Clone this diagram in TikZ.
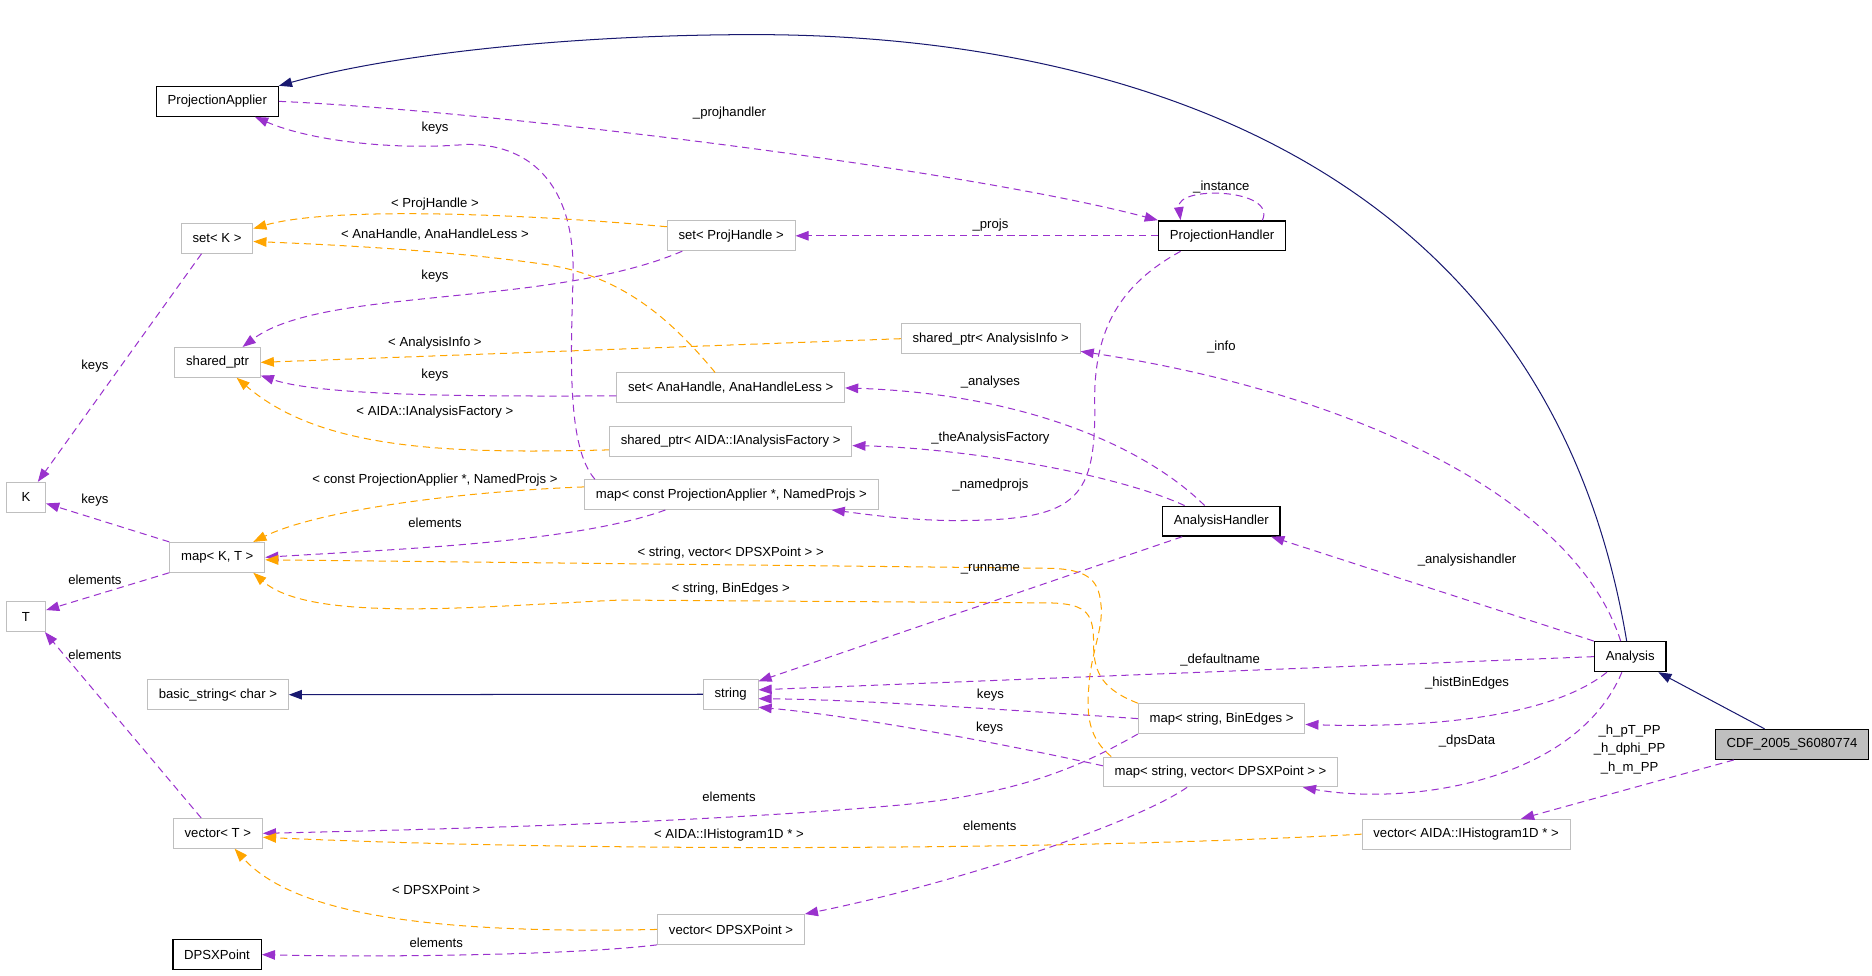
\documentclass[tikz,border=0pt]{standalone}
\usepackage{fontspec}
\setmainfont{Liberation Sans}
\usetikzlibrary{arrows.meta}
\definecolor{orchid}{HTML}{9A32CD}
\definecolor{gvorange}{HTML}{FFA500}
\definecolor{inhblue}{HTML}{191970}
\definecolor{boxgray}{HTML}{BFBFBF}
\begin{document}
\begin{tikzpicture}[x=1pt,y=-1pt,font=\fontsize{11}{13}\selectfont]
	\tikzstyle{cls} = [rectangle,draw=boxgray,line width=0.8pt,fill=white,minimum width=33pt,minimum height=25pt,inner xsep=9.5pt,inner ysep=0pt]
	\tikzstyle{doc} = [cls,draw=black,line width=1.1pt]
	\tikzstyle{use} = [draw=orchid,line width=0.85pt,dash pattern=on 6pt off 4pt,-{Triangle[length=11pt,width=8pt,fill=orchid]}]
	\tikzstyle{tmpl} = [use,draw=gvorange,-{Triangle[length=11pt,width=8pt,fill=gvorange]}]
	\tikzstyle{inh} = [draw=inhblue,line width=0.85pt,-{Triangle[length=11pt,width=8pt,fill=inhblue]}]
	\tikzstyle{lbl} = [inner sep=0pt]
	\useasboundingbox (0,0) rectangle (1568,816.7);
	\node[doc](PA)at(182,84.9){ProjectionApplier};
	\node[cls](setK)at(181.8,199.6){set< K >};
	\node[cls](shptr)at(182.2,303.5){shared\_ptr};
	\node[cls](K)at(21.7,416.5){K};
	\node[cls](mapKT)at(182,466.8){map< K, T >};
	\node[cls](T)at(21.7,516.5){T};
	\node[cls](bstr)at(182.5,581.9){basic\_string< char >};
	\node[cls](vecT)at(182.5,698){vector< T >};
	\node[doc](dpsx)at(181.8,799.6){DPSXPoint};
	\node[cls](setPH)at(612.4,197.5){set< ProjHandle >};
	\node[cls](spInfo)at(829.8,283.7){shared\_ptr< AnalysisInfo >};
	\node[cls](setAna)at(612,324.9){set< AnaHandle, AnaHandleLess >};
	\node[cls](spFact)at(612,369.7){shared\_ptr< AIDA::IAnalysisFactory >};
	\node[cls](mapNP)at(612.6,414.3){map< const ProjectionApplier *, NamedProjs >};
	\node[cls](str)at(612,581.5){string};
	\node[cls](vecDPS)at(612.3,778.5){vector< DPSXPoint >};
	\node[doc](PH)at(1023.6,197.5){ProjectionHandler};
	\node[doc](AH)at(1023,436.5){AnalysisHandler};
	\node[cls](mapBE)at(1023.2,601.9){map< string, BinEdges >};
	\node[cls](mapVD)at(1022.3,646.6){map< string, vector< DPSXPoint > >};
	\node[cls](vecAIDA)at(1228,698.7){vector< AIDA::IHistogram1D * >};
	\node[doc](Analysis)at(1365.5,550){Analysis};
	\node[doc,fill=boxgray](CDF)at(1501,623.5){CDF\_2005\_S6080774};
	\draw[inh] ([xshift=-3pt]Analysis.north) .. controls (1290,100) and (880,29) .. (632,29) .. controls (480,29) and (330,45) .. (PA.north east);
	\draw[inh] ([xshift=-23pt]CDF.north) -- ([xshift=-7pt]Analysis.south east);
	\draw[inh] (str.west) -- (bstr.east);
	\draw[use] ([xshift=16pt]CDF.south west) -- ([xshift=46pt]vecAIDA.north);
	\draw[use] ([xshift=-7pt]Analysis.south) .. controls (1320,655) and (1180,675) .. ([xshift=69pt]mapVD.south);
	\draw[use] ([xshift=11pt]Analysis.south west) .. controls (1300,600) and (1200,610) .. (mapBE.-4);
	\draw[use] (Analysis.west) -- (str.9);
	\draw[use] (Analysis.north west) -- ([xshift=-8pt]AH.south east);
	\draw[use] ([xshift=-8pt]Analysis.north) .. controls (1320,420) and (1140,330) .. (spInfo.-8);
	\draw[use] ([xshift=-14pt]AH.north) .. controls (960,375) and (860,330) .. (setAna.east);
	\draw[use] ([xshift=19pt]AH.north west) .. controls (930,395) and (800,375) .. (spFact.-2);
	\draw[use] ([xshift=17pt]AH.south west) -- (str.25);
	\draw[use] ([xshift=19pt]PH.south west) .. controls (935,240) and (915,280) .. (917,343) .. controls (917,420) and (900,436) .. (800,436) .. controls (760,436) and (720,430) .. ([xshift=84pt]mapNP.south);
	\draw[use] ([xshift=-20pt]PH.north east) .. controls (1070,158) and (985,155) .. ([xshift=19pt]PH.north west);
	\draw[use] (PH.west) -- (setPH.east);
	\draw[use] (PA.east) .. controls (400,92) and (800,140) .. (PH.north west);
	\draw[use] ([xshift=9pt]mapNP.north west) .. controls (475,375) and (478,300) .. (480,232) .. controls (482,150) and (440,120) .. (390,121) .. controls (330,126) and (260,118) .. ([xshift=-20pt]PA.south east);
	\draw[use] ([xshift=13pt]setPH.south west) .. controls (460,258) and (270,240) .. ([xshift=21pt]shptr.north);
	\draw[use] ([xshift=-13pt]setK.south) -- ([xshift=10pt]K.north);
	\draw[use] (mapKT.north west) -- (K.-17);
	\draw[use] (mapKT.south west) -- (T.18);
	\draw[use] ([xshift=-14pt]vecT.north) -- ([xshift=-1pt]T.south east);
	\draw[use] ([xshift=68pt]mapNP.south west) .. controls (480,455) and (330,460) .. (mapKT.east);
	\draw[use] (mapBE.west) .. controls (850,595) and (720,586) .. (str.-9);
	\draw[use] (mapVD.177) .. controls (850,625) and (720,600) .. (str.-25);
	\draw[use] ([xshift=-28pt]mapVD.south) .. controls (950,690) and (800,740) .. (vecDPS.north east);
	\draw[use] (mapBE.south west) .. controls (900,645) and (850,665) .. (753.8,674.3) .. controls (600,688) and (400,694) .. (vecT.east);
	\draw[use] (vecDPS.south west) .. controls (480,800) and (320,802) .. (dpsx.east);
	\draw[use] (setAna.184) .. controls (400,332) and (270,332) .. (shptr.-17);
	\draw[tmpl] (setPH.172) .. controls (450,180) and (280,172) .. (setK.15);
	\draw[tmpl] ([xshift=-13pt]setAna.north) .. controls (560,265) and (520,232) .. (460,222) .. controls (380,210) and (280,205) .. (setK.-5);
	\draw[tmpl] (spInfo.west) -- (shptr.east);
	\draw[tmpl] (spFact.184) .. controls (380,380) and (270,378) .. ([xshift=16pt]shptr.south);
	\draw[tmpl] (mapNP.177) .. controls (380,412) and (265,428) .. ([xshift=-10pt]mapKT.north east);
	\draw[tmpl] ([xshift=7pt]mapVD.north west) .. controls (912,618) and (910,600) .. (912,575) .. controls (914,545) and (925,525) .. (922,505) .. controls (920,485) and (910,477) .. (880,476) -- (mapKT.-3);
	\draw[tmpl] (mapBE.north west) .. controls (925,578) and (916,565) .. (916,540) .. controls (916,515) and (912,506) .. (880,505) -- (519,502.6) .. controls (400,508) and (260,522) .. ([xshift=-10pt]mapKT.south east);
	\draw[tmpl] (vecAIDA.west) .. controls (900,712) and (500,714) .. (vecT.-5);
	\draw[tmpl] (vecDPS.west) .. controls (380,782) and (250,770) .. ([xshift=14pt]vecT.south);
	\node[lbl](lprojhandler)at(611,95){\_projhandler};
	\node[lbl](lkeysPA)at(364.4,107){keys};
	\node[lbl](linstance)at(1023,156.4){\_instance};
	\node[lbl](lprojs)at(829.6,188.5){\_projs};
	\node[lbl](lprojhandle)at(364.3,170.9){< ProjHandle >};
	\node[lbl](lanahandle)at(364.3,196.8){< AnaHandle, AnaHandleLess >};
	\node[lbl](lkeysPH)at(364.3,230.9){keys};
	\node[lbl](lanainfo)at(364.3,287){< AnalysisInfo >};
	\node[lbl](linfo)at(1023,290.4){\_info};
	\node[lbl](lkeysAna)at(364.3,314.1){keys};
	\node[lbl](lkeysK)at(79.5,307){keys};
	\node[lbl](lanalyses)at(829.6,319.7){\_analyses};
	\node[lbl](lfactory)at(364.3,344.8){< AIDA::IAnalysisFactory >};
	\node[lbl](ltheFactory)at(829.6,367){\_theAnalysisFactory};
	\node[lbl](lconstPA)at(364.3,402){< const ProjectionApplier *, NamedProjs >};
	\node[lbl](lnamedprojs)at(829.6,406.2){\_namedprojs};
	\node[lbl](lkeysKT)at(79.5,418.8){keys};
	\node[lbl](lelemNP)at(364.3,437.8){elements};
	\node[lbl](lstrvec)at(612,463.5){< string, vector< DPSXPoint > >};
	\node[lbl](lanahandler)at(1228.8,469){\_analysishandler};
	\node[lbl](lrunname)at(829.6,476.9){\_runname};
	\node[lbl](lelemKT)at(79.5,485.8){elements};
	\node[lbl](lstrbin)at(612,493.6){< string, BinEdges >};
	\node[lbl](lelemT)at(79.5,548.6){elements};
	\node[lbl](ldefaultname)at(1022,552.8){\_defaultname};
	\node[lbl](lhistbin)at(1228.8,572.4){\_histBinEdges};
	\node[lbl](lkeysBE)at(829.6,582.1){keys};
	\node[lbl](lkeysVD)at(829,610){keys};
	\node[lbl](ldpsdata)at(1228.8,620.5){\_dpsData};
	\node[lbl,align=center,font=\fontsize{11}{15.5}\selectfont](lhists)at(1365,627.5){\_h\_pT\_PP\\\_h\_dphi\_PP\\\_h\_m\_PP};
	\node[lbl](lelemBE)at(610.6,667.3){elements};
	\node[lbl](lelemVD)at(829,692){elements};
	\node[lbl](lhisto)at(610.6,699.4){< AIDA::IHistogram1D * >};
	\node[lbl](ldpspoint)at(365.4,744.9){< DPSXPoint >};
	\node[lbl](lelemDPS)at(365.4,790.1){elements};
\end{tikzpicture}
\end{document}
